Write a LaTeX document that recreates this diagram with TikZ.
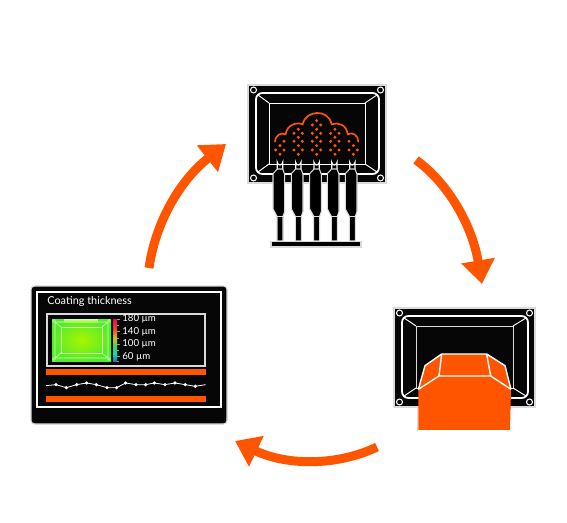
\documentclass[tikz,border=0pt]{standalone}
\usepackage{fontspec}
\setmainfont{Lato}
\usetikzlibrary{arrows.meta}
\definecolor{accent}{RGB}{255,85,0}
\definecolor{edgegray}{RGB}{218,218,218}
\definecolor{panelblack}{RGB}{6,6,6}
\definecolor{limecore}{RGB}{170,245,0}
\definecolor{limeedge}{RGB}{85,235,45}
\definecolor{limeline}{RGB}{205,252,170}
\definecolor{bar1}{RGB}{240,0,95}
\definecolor{bar2}{RGB}{240,70,40}
\definecolor{bar3}{RGB}{210,190,30}
\definecolor{bar4}{RGB}{60,210,90}
\definecolor{bar5}{RGB}{0,220,200}
\definecolor{bar6}{RGB}{20,120,190}
\begin{document}
\begin{tikzpicture}[
    x=0.02cm, y=-0.02cm,
    zoomed/.style={x=0.006667cm, y=-0.006667cm},
    panel/.style={draw=edgegray, fill=panelblack, line width=0.6pt},
    frame/.style={draw=white, line width=1pt, rounded corners=3.6pt},
    hairline/.style={draw=white, line width=0.55pt},
    cycle/.style={draw=accent, line width=5.1pt, -{Triangle[length=13.5pt,width=18.5pt]}},
    label/.style={text=white, anchor=west, inner sep=0pt, font=\fontsize{5.5}{6}\selectfont}
  ]
    \path[use as bounding box, fill=white] (0,0) rectangle (567,523);

    % deposition station
    \draw[panel] (248,85) rectangle (386,183);
    \draw[frame] (256,93) rectangle (379,174);
    \draw[hairline] (269,103) rectangle (365,164);
    \draw[hairline] (258,95) -- (269,103) (377,95) -- (365,103) (258,172) -- (269,164) (377,172) -- (365,164);
    \foreach \cx/\cy in {253.5/90, 380.5/90, 253.5/178, 380.5/178}
      \draw[hairline, line width=0.6pt] (\cx,\cy) circle (1.7pt);

    \begin{scope}[shift={(235,75)}, zoomed]
      \draw[accent, line width=0.95pt, line cap=round]
        (120,200) .. controls (122,178) and (140,172) .. (152,178)
        .. controls (155,150) and (185,140) .. (203,148)
        .. controls (212,105) and (280,100) .. (290,148)
        .. controls (310,140) and (335,150) .. (338,178)
        .. controls (352,170) and (370,180) .. (370,200);
      \foreach \dx in {190,245,300}
        \foreach \ox/\oy in {0/163,-13/175,12/175,0/187,-13/199,12/199,0/212,-13/225,12/225,0/238}
          \fill[accent] (\dx+\ox,\oy) circle (0.95pt);
      \foreach \ox/\oy in {245/137,232/150,257/150,147/199,135/212,122/225,147/225,135/238,342/199,355/212,342/225,367/225,355/238}
        \fill[accent] (\ox,\oy) circle (0.95pt);
      % nozzles
      \foreach \nx in {135,190,245,298,352} {
        \begin{scope}[shift={(\nx,0)}]
          \draw[white, fill=black, line width=0.7pt] (-8,285) -- (-8,262) arc (180:0:8 and 8) -- (8,285) -- cycle;
          \draw[edgegray, fill=black, line width=0.6pt]
            (-8,282) -- (-21,296) -- (-21,402) -- (-9,424) -- (-9,498) -- (9,498) -- (9,424) -- (14,410) -- (14,298) -- (8,282) -- cycle;
          \draw[edgegray, line width=0.5pt] (-9,424) -- (9,424);
        \end{scope}
      }
      \draw[edgegray, fill=black, line width=0.6pt] (108,500) rectangle (378,516);
    \end{scope}

    % curing station
    \draw[panel] (394,308) rectangle (535,407);
    \draw[frame] (402,316) rectangle (528,398);
    \draw[hairline, draw=edgegray] (416,326) rectangle (513,388);
    \draw[hairline] (404,318) -- (416,326) (526,318) -- (513,326) (404,396) -- (416,388) (526,396) -- (513,388);
    \foreach \cx/\cy in {399.5/313, 529.5/313, 399.5/402, 529.5/402}
      \draw[hairline, line width=0.6pt] (\cx,\cy) circle (1.7pt);
    \begin{scope}[shift={(385,300)}, zoomed]
      \draw[edgegray, line width=0.6pt] (98,325) -- (98,394);
      \fill[accent] (100,390) -- (100,268) -- (120,197) -- (170,162) -- (305,162) -- (360,197) -- (378,268) -- (375,390) -- cycle;
      \draw[white, line width=0.8pt] (100,268) -- (120,197) -- (170,162) -- (305,162) -- (360,197) -- (378,268);
      \draw[white, line width=0.8pt] (170,162) -- (162,228) (305,162) -- (317,228) (100,268) -- (162,228) -- (317,228) -- (378,268);
    \end{scope}

    % inspection screen
    \draw[panel, rounded corners=2pt] (31,286) rectangle (227,424);
    \draw[white, line width=0.7pt] (37,292) rectangle (221,407);
    \node[label, font=\fontsize{6.2}{7}\selectfont] (title) at (47,301.5) {Coating thickness};
    \draw[edgegray, line width=0.7pt] (47,314) rectangle (205,366);
    \shade[inner color=limecore, outer color=limeedge] (52,319) rectangle (111,361);
    \shade[top color=limeline, bottom color=limecore!70!limeedge] (64,319) rectangle (98,322);
    \draw[limeline, line width=0.35pt, rounded corners=1pt] (55,322) rectangle (108,358);
    \draw[limeline, line width=0.35pt] (61,327) rectangle (102,353);
    \draw[limeline, line width=0.35pt] (55,322) -- (61,327) (108,322) -- (102,327) (55,358) -- (61,353) (108,358) -- (102,353);
    \foreach \cx/\cy in {54/321, 109/321, 54/359, 109/359}
      \draw[limeline, line width=0.3pt] (\cx,\cy) circle (0.8pt);
    \foreach \ya/\yb/\ca/\cb in {319/329/bar1/bar2, 329/338/bar2/bar3, 338/347/bar3/bar4, 347/354/bar4/bar5, 354/361/bar5/bar6}
      \shade[top color=\ca, bottom color=\cb] (113,\ya) rectangle (117,\yb);
    \foreach \ty in {319,331.5,344,356.5}
      \draw[edgegray!70!black, line width=0.3pt] (117,\ty) -- (120,\ty);
    \foreach \ty in {325,338,350,361}
      \draw[edgegray!70!black, line width=0.3pt] (117,\ty) -- (119,\ty);
    \node[label] (t180) at (122,319) {180 µm};
    \node[label] (t140) at (122,331.5) {140 µm};
    \node[label] (t100) at (122,344) {100 µm};
    \node[label] (t60)  at (122,356.5) {60 µm};
    \fill[accent] (46,369) rectangle (205.5,375);
    \fill[accent] (46,396) rectangle (205.5,402);
    \begin{scope}[shift={(25,280)}, zoomed]
      \draw[white, line width=0.45pt] (63,317) -- (93,314) -- (124,323) -- (155,314) -- (185,309) -- (214,314) -- (246,323) -- (275,323) -- (302,309) -- (333,314) -- (362,314) -- (388,309) -- (420,314) -- (450,309) -- (481,314) -- (511,319) -- (542,314);
      \foreach \px/\py in {93/314,124/323,155/314,185/309,214/314,246/323,275/323,302/309,333/314,362/314,388/309,420/314,450/309,481/314,511/319}
        \fill[white] (\px,\py) circle (1pt);
    \end{scope}

    % process cycle
    \coordinate (deposit out) at (416,160);
    \coordinate (cure in) at (482,284);
    \coordinate (cure out) at (377,447);
    \coordinate (inspect in) at (235,441);
    \coordinate (inspect out) at (149,268);
    \coordinate (deposit in) at (226,144);
    \draw[cycle] (deposit out) .. controls (448,183) and (472,225) .. (cure in);
    \draw[cycle] (cure out) .. controls (335,467) and (285,465) .. (inspect in);
    \draw[cycle] (inspect out) .. controls (155,225) and (178,182) .. (deposit in);
  \end{tikzpicture}
\end{document}
